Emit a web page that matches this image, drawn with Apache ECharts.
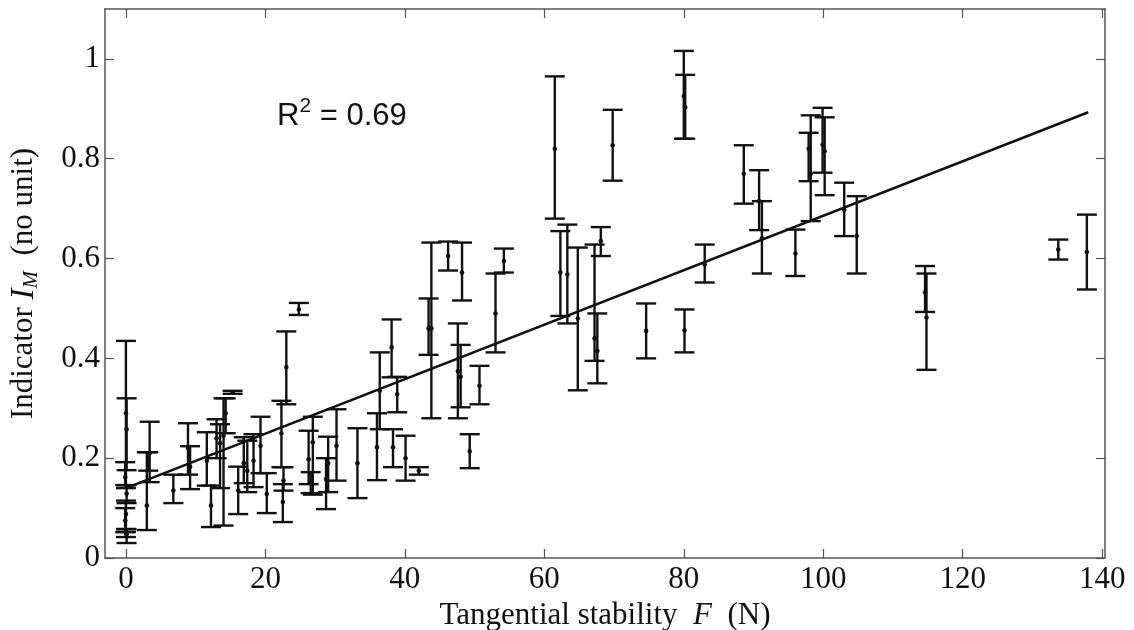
<!DOCTYPE html>
<html>
<head>
<meta charset="utf-8">
<script src="https://cdn.jsdelivr.net/npm/echarts@6/dist/echarts.min.js"></script>
<style>
html,body{margin:0;padding:0;background:#fff;}
#chart{width:1134px;height:630px;}
</style>
</head>
<body>
<div id="chart"></div>
<script>
// Tangential stability F (N)
var forceN = [
  0, 0.1, -0.1, 0.1, 0, -0.1, 0.1, 0,
  3.0, 3.4, 3.2, 6.8, 8.9, 9.2,
  11.6, 12.2, 13.0, 13.5, 14.0, 14.3, 15.3,
  16.1, 16.9, 17.4, 18.3, 19.3, 20.2,
  22.3, 22.5, 22.6, 23.0, 24.8,
  26.2, 26.8, 26.5, 29.0, 28.7, 30.2,
  33.2, 36.0, 36.4, 38.1, 38.3, 38.9, 40.1, 42.0,
  43.4, 43.8, 46.2, 47.6, 48.0, 48.2, 49.3, 50.7, 53.0, 54.2,
  61.5, 62.3, 63.3, 64.8, 67.2, 67.6, 68.1, 69.8,
  74.6, 80.0, 80.2, 80.1, 83.0, 88.6, 90.8, 91.2, 96.0,
  97.9, 98.2, 99.9, 100.2, 103.0, 104.8,
  114.6, 114.8, 133.7, 137.8
];
// Indicator I_M: mean, lower and upper bound of each error bar
var meanIM = [
  0.29, 0.258, 0.162, 0.129, 0.088, 0.075, 0.047, 0.05,
  0.105, 0.21, 0.195, 0.135, 0.22, 0.183,
  0.195, 0.105, 0.24, 0.23, 0.245, 0.29, 0.332,
  0.135, 0.19, 0.175, 0.195, 0.225, 0.128,
  0.25, 0.112, 0.155, 0.382, 0.498,
  0.198, 0.232, 0.15, 0.19, 0.158, 0.225,
  0.19, 0.222, 0.335, 0.422, 0.222, 0.328, 0.2, 0.175,
  0.46, 0.46, 0.605, 0.374, 0.363, 0.572, 0.214, 0.345, 0.49, 0.595,
  0.82, 0.572, 0.568, 0.48, 0.44, 0.415, 0.635, 0.827,
  0.455, 0.925, 0.903, 0.456, 0.588, 0.77, 0.715, 0.64, 0.61,
  0.82, 0.77, 0.828, 0.815, 0.698, 0.645,
  0.532, 0.482, 0.618, 0.613
];
var lowIM = [
  0.14, 0.176, 0.146, 0.11, 0.058, 0.052, 0.030, 0.042,
  0.056, 0.152, 0.175, 0.11, 0.167, 0.138,
  0.145, 0.062, 0.2, 0.14, 0.065, 0.25, 0.329,
  0.088, 0.15, 0.132, 0.142, 0.17, 0.09,
  0.182, 0.072, 0.135, 0.308, 0.487,
  0.148, 0.127, 0.13, 0.132, 0.098, 0.155,
  0.12, 0.156, 0.258, 0.362, 0.182, 0.292, 0.155, 0.167,
  0.407, 0.28, 0.576, 0.28, 0.302, 0.516, 0.18, 0.308, 0.412, 0.572,
  0.68, 0.485, 0.47, 0.336, 0.395, 0.35, 0.605, 0.756,
  0.4, 0.84, 0.84, 0.412, 0.552, 0.71, 0.657, 0.57, 0.565,
  0.755, 0.675, 0.772, 0.727, 0.645, 0.57,
  0.493, 0.377, 0.598, 0.538
];
var highIM = [
  0.435, 0.32, 0.192, 0.146, 0.115, 0.10, 0.058, 0.052,
  0.212, 0.273, 0.212, 0.167, 0.27, 0.224,
  0.252, 0.145, 0.278, 0.268, 0.32, 0.32, 0.335,
  0.183, 0.242, 0.235, 0.248, 0.283, 0.17,
  0.315, 0.148, 0.182, 0.454, 0.511,
  0.255, 0.283, 0.172, 0.243, 0.2, 0.298,
  0.26, 0.29, 0.412, 0.478, 0.258, 0.363, 0.245, 0.182,
  0.52, 0.632, 0.634, 0.47, 0.427, 0.632, 0.248, 0.385, 0.57, 0.62,
  0.965, 0.655, 0.668, 0.622, 0.628, 0.49, 0.663, 0.898,
  0.51, 1.016, 0.968, 0.498, 0.628, 0.827, 0.777, 0.715, 0.658,
  0.852, 0.887, 0.902, 0.883, 0.752, 0.725,
  0.585, 0.57, 0.638, 0.688
];
// Linear regression line end points
var fitX = [0, 138];
var fitY = [0.14, 0.893];
// Tick labels
var xTicks = [0, 20, 40, 60, 80, 100, 120, 140];
var yTicks = [0, 0.2, 0.4, 0.6, 0.8, 1];

var barData = forceN.map(function (f, i) { return [f, meanIM[i], lowIM[i], highIM[i]]; });
var fitData = fitX.map(function (f, i) { return [f, fitY[i]]; });

var serif = 'Liberation Serif';
var ink = '#111';
var axisCol = '#555';

function renderBar(params, api) {
  var x = api.value(0);
  var pMean = api.coord([x, api.value(1)]);
  var pLow = api.coord([x, api.value(2)]);
  var pHigh = api.coord([x, api.value(3)]);
  var hw = 10;
  var st = { stroke: ink, lineWidth: 2.4 };
  return {
    type: 'group',
    children: [
      { type: 'line', shape: { x1: pLow[0], y1: pLow[1], x2: pHigh[0], y2: pHigh[1] }, style: st },
      { type: 'line', shape: { x1: pLow[0] - hw, y1: pLow[1], x2: pLow[0] + hw, y2: pLow[1] }, style: st },
      { type: 'line', shape: { x1: pHigh[0] - hw, y1: pHigh[1], x2: pHigh[0] + hw, y2: pHigh[1] }, style: st },
      { type: 'circle', shape: { cx: pMean[0], cy: pMean[1], r: 2.3 }, style: { fill: ink } }
    ]
  };
}

var chart = echarts.init(document.getElementById('chart'), null, { renderer: 'canvas' });
var option = {
  animation: false,
  backgroundColor: '#fff',
  grid: { left: 105, right: 29, top: 9, bottom: 72, containLabel: false, outerBoundsMode: 'none' },
  xAxis: [{
    type: 'value', min: -3, max: 140.4, position: 'bottom',
    axisLine: { show: true, onZero: false, lineStyle: { color: axisCol, width: 1.5 } },
    axisTick: { show: true, inside: true, length: 9, customValues: xTicks, lineStyle: { color: axisCol, width: 1.2 } },
    axisLabel: { customValues: xTicks, fontFamily: serif, fontSize: 31, color: ink, margin: 6 },
    splitLine: { show: false },
    name: '{n|Tangential stability  }{i|F}{n|  (N)}',
    nameLocation: 'middle', nameGap: 28,
    nameTextStyle: {
      rich: {
        n: { fontFamily: serif, fontSize: 31, color: ink },
        i: { fontFamily: serif, fontSize: 31, fontStyle: 'italic', color: ink }
      }
    }
  }, {
    type: 'value', min: -3, max: 140.4, position: 'top',
    axisLine: { show: true, onZero: false, lineStyle: { color: axisCol, width: 1.5 } },
    axisTick: { show: true, inside: true, length: 9, customValues: xTicks, lineStyle: { color: axisCol, width: 1.2 } },
    axisLabel: { show: false },
    splitLine: { show: false }
  }],
  yAxis: [{
    type: 'value', min: 0, max: 1.1, position: 'left',
    axisLine: { show: true, onZero: false, lineStyle: { color: axisCol, width: 1.5 } },
    axisTick: { show: true, inside: true, length: 9, customValues: yTicks, lineStyle: { color: axisCol, width: 1.2 } },
    axisLabel: {
      customValues: yTicks, fontFamily: serif, fontSize: 31, color: ink, margin: 5,
      formatter: function (v) { return (v === 0 || v === 1) ? String(v) : v.toFixed(1); }
    },
    splitLine: { show: false },
    name: '{n|Indicator }{i|I}{s|M}{n|  (no unit)}',
    nameLocation: 'middle', nameGap: 63, nameRotate: 90,
    nameTextStyle: {
      rich: {
        n: { fontFamily: serif, fontSize: 31, color: ink, lineHeight: 36, verticalAlign: 'middle' },
        i: { fontFamily: serif, fontSize: 33, fontStyle: 'italic', color: ink, lineHeight: 36, verticalAlign: 'middle' },
        s: { fontFamily: serif, fontSize: 21, fontStyle: 'italic', color: ink, lineHeight: 36, verticalAlign: 'bottom' }
      }
    }
  }, {
    type: 'value', min: 0, max: 1.1, position: 'right',
    axisLine: { show: true, onZero: false, lineStyle: { color: axisCol, width: 1.5 } },
    axisTick: { show: true, inside: true, length: 9, customValues: yTicks, lineStyle: { color: axisCol, width: 1.2 } },
    axisLabel: { show: false },
    splitLine: { show: false }
  }],
  graphic: [{
    type: 'text', left: 277, top: 96, silent: true,
    style: {
      text: '{a|R}{b|2}{a| = 0.69}',
      rich: {
        a: { fontFamily: 'Liberation Sans', fontSize: 31, fill: ink, lineHeight: 36, verticalAlign: 'bottom' },
        b: { fontFamily: 'Liberation Sans', fontSize: 21, fill: ink, lineHeight: 36, verticalAlign: 'top' }
      }
    }
  }],
  series: [{
    type: 'custom', xAxisIndex: 0, yAxisIndex: 0,
    renderItem: renderBar, data: barData, clip: true, z: 3
  }, {
    type: 'line', xAxisIndex: 0, yAxisIndex: 0, data: fitData,
    symbol: 'none', lineStyle: { color: ink, width: 2.6 }, z: 4
  }]
};
chart.setOption(option);
</script>
</body>
</html>
